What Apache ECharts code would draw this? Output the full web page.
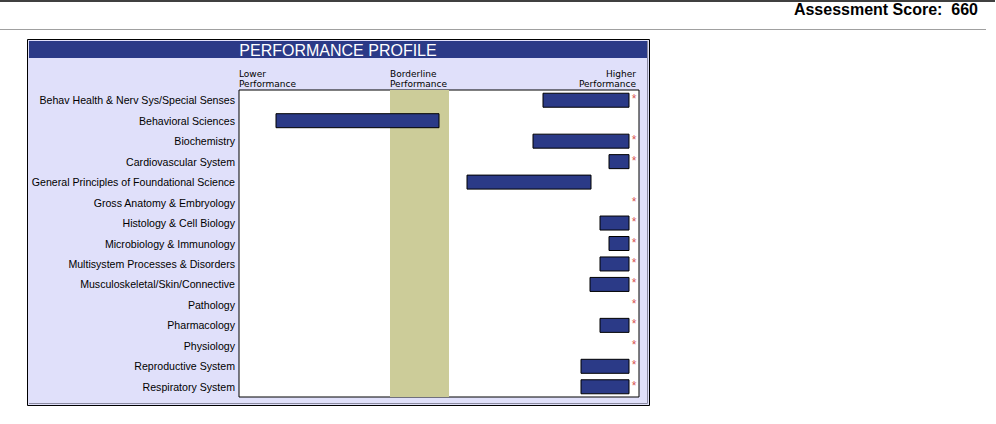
<!DOCTYPE html>
<html><head><meta charset="utf-8">
<style>html,body{margin:0;padding:0;background:#fff;}#c{width:996px;height:424px;}</style>
<script src="https://cdn.jsdelivr.net/npm/echarts@6/dist/echarts.min.js"></script>
</head><body><div id="c"></div>
<script>
const categories = [
  'Behav Health & Nerv Sys/Special Senses','Behavioral Sciences','Biochemistry','Cardiovascular System',
  'General Principles of Foundational Science','Gross Anatomy & Embryology','Histology & Cell Biology',
  'Microbiology & Immunology','Multisystem Processes & Disorders','Musculoskeletal/Skin/Connective',
  'Pathology','Pharmacology','Physiology','Reproductive System','Respiratory System'
];
// performance range (scale 0-400), null = no bar
const rangeLow  = [304, 37, 294, 370, 228, null, 361, 370, 361, 351, null, 361, null, 342, 342];
const rangeHigh = [390, 200, 390, 390, 352, null, 390, 390, 390, 390, null, 390, null, 390, 390];
const flagged   = [1, 0, 1, 1, 0, 1, 1, 1, 1, 1, 1, 1, 1, 1, 1];
const borderlineBand = [151, 210];
const scaleMax = 400;
const headerLabels = ['Lower\nPerformance', 'Borderline\nPerformance', 'Higher\nPerformance'];
const titleText = 'PERFORMANCE PROFILE';
const scoreText = 'Assessment Score:  660';

const chart = echarts.init(document.getElementById('c'), null, {renderer: 'svg'});
const barData = categories.map((c, i) => rangeLow[i] == null ? null : [rangeLow[i], rangeHigh[i], i]).filter(d => d);
const flagData = categories.map((c, i) => flagged[i] ? [395, i] : null).filter(d => d);
const F = '"Liberation Sans", Arial, sans-serif';
const HF = '"DejaVu Sans", Verdana, sans-serif';

chart.setOption({
  animation: false,
  graphic: [
    {type: 'line', shape: {x1: 0, y1: 1, x2: 995, y2: 1}, style: {stroke: '#000', lineWidth: 1.5}},
    {type: 'line', shape: {x1: 0, y1: 29.5, x2: 986, y2: 29.5}, style: {stroke: '#a0a0a0', lineWidth: 1}},
    {type: 'text', right: 18, top: 1, style: {text: scoreText, font: 'bold 16px ' + F, fill: '#000'}},
    {type: 'rect', shape: {x: 27.5, y: 39.5, width: 622, height: 366}, style: {fill: '#e0e0fa', stroke: '#000', lineWidth: 1}, z: -10},
    {type: 'polyline', shape: {points: [[647.5, 41], [647.5, 403.5], [29, 403.5]]}, style: {stroke: '#8a8aa0', lineWidth: 1, fill: null}, z: -9},
    {type: 'rect', shape: {x: 29, y: 41, width: 618, height: 17}, style: {fill: '#2b3a87'}, z: -8},
    {type: 'text', x: 338, y: 50, style: {text: titleText, font: '16px ' + F, fill: '#fff', align: 'center', verticalAlign: 'middle'}},
    {type: 'text', x: 239, y: 69, style: {text: headerLabels[0], font: '9px ' + HF, fill: '#000', align: 'left', lineHeight: 10}},
    {type: 'text', x: 390, y: 69, style: {text: headerLabels[1], font: '9px ' + HF, fill: '#000', align: 'left', lineHeight: 10}},
    {type: 'text', x: 636, y: 69, style: {text: headerLabels[2], font: '9px ' + HF, fill: '#000', align: 'right', lineHeight: 10}}
  ],
  grid: {left: 239, top: 90, width: 400, height: 307, show: true, backgroundColor: '#fff', borderColor: '#000', borderWidth: 1},
  xAxis: {type: 'value', min: 0, max: scaleMax, show: false},
  yAxis: {
    type: 'category', data: categories, inverse: true,
    axisLine: {show: false}, axisTick: {show: false}, splitLine: {show: false},
    axisLabel: {fontSize: 10.6, fontFamily: F, color: '#000', margin: 4}
  },
  series: [
    {
      type: 'custom', data: barData, encode: {x: [0, 1], y: 2},
      renderItem: (params, api) => {
        const s = api.coord([api.value(0), api.value(2)]);
        const e = api.coord([api.value(1), api.value(2)]);
        return {type: 'rect', shape: {x: s[0], y: s[1] - 7, width: e[0] - s[0], height: 14},
          style: {fill: '#2b3a87', stroke: '#000', lineWidth: 1}};
      },
      markArea: {silent: true, itemStyle: {color: '#cccc99'}, data: [[{xAxis: borderlineBand[0]}, {xAxis: borderlineBand[1]}]]},
      z: 2
    },
    {
      type: 'scatter', data: flagData, symbolSize: 0,
      label: {show: true, formatter: '*', color: '#cc2222', fontSize: 12, fontFamily: F, offset: [0, -1], position: 'inside'},
      z: 3
    }
  ]
});
</script></body></html>
